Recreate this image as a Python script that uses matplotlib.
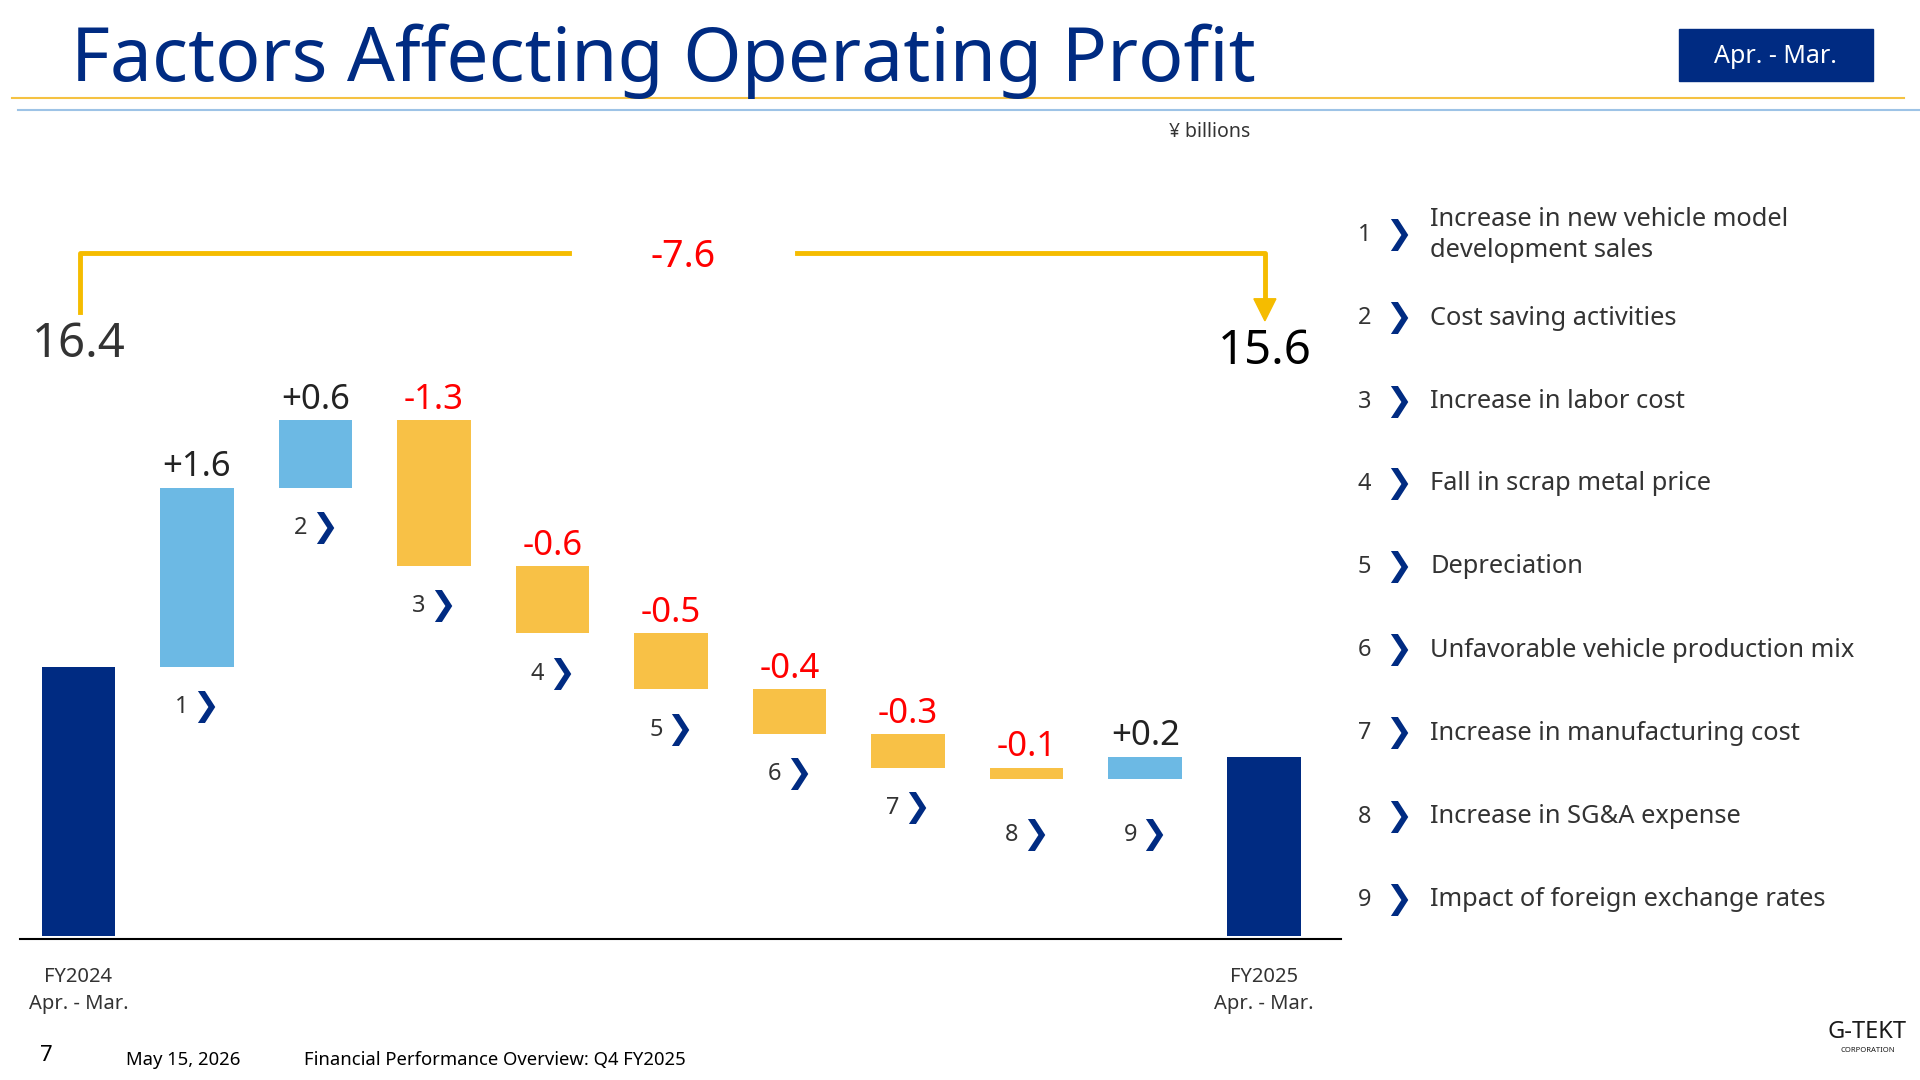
import matplotlib
matplotlib.use("Agg")
import matplotlib.pyplot as plt
from matplotlib.patches import Rectangle
from matplotlib.lines import Line2D

plt.rcParams['font.family'] = ['Noto Sans', 'DejaVu Sans']

start_label = "FY2024\nApr. - Mar."
end_label = "FY2025\nApr. - Mar."
start_value = 16.4
end_value = 15.6
deltas = [1.6, 0.6, -1.3, -0.6, -0.5, -0.4, -0.3, -0.1, 0.2]
factors = ["Increase in new vehicle model\ndevelopment sales", "Cost saving activities",
           "Increase in labor cost", "Fall in scrap metal price", "Depreciation",
           "Unfavorable vehicle production mix", "Increase in manufacturing cost",
           "Increase in SG&A expense", "Impact of foreign exchange rates"]
total_change = -7.6

NAVY = "#002B82"; SKY = "#6CB9E4"; GOLD = "#F8C146"; RED = "#FF0000"; BR = "#F5BC00"
W, H = 1568, 882
fig = plt.figure(figsize=(19.2, 10.8), dpi=100)
def P(x, y): return (x / W, 1 - y / H)

base = 13.97
ax_top, ax_bot = 150, 767
ax = fig.add_axes([16 / W, 1 - ax_bot / H, (1095 - 16) / W, (ax_bot - ax_top) / H])
ax.set_ylim(base, base + (ax_bot - ax_top) / 91.5)
ax.set_xlim(-0.496, 10.65)
for s in ["top", "right", "left"]:
    ax.spines[s].set_visible(False)
ax.spines["bottom"].set_linewidth(1.5)
ax.set_yticks([])
ax.set_xticks([])
bw = 0.62
ax.bar(0, start_value - base - 0.03, bottom=base + 0.03, width=bw, color=NAVY)
ax.bar(10, end_value - base - 0.03, bottom=base + 0.03, width=bw, color=NAVY)
cur = start_value
for i, d in enumerate(deltas, start=1):
    lo, hi = min(cur, cur + d), max(cur, cur + d)
    ax.bar(i, hi - lo, bottom=lo, width=bw, color=SKY if d > 0 else GOLD)
    ax.text(i, hi + 0.03, f"{d:+.1f}", ha="center", va="bottom", fontsize=25,
            color="#222222" if d > 0 else RED)
    off = 0.36 if abs(d) >= 0.3 else 0.5
    ax.text(i - 0.07, lo - off, str(i), ha="right", va="center", fontsize=17, color="#333333")
    ax.text(i - 0.04, lo - off, "❯", ha="left", va="center", fontsize=23, color=NAVY,
            fontweight="bold", family="DejaVu Sans")
    cur += d
ax.text(0, base - 0.25, start_label, ha="center", va="top", fontsize=14.5, color="#333333", linespacing=1.45)
ax.text(10, base - 0.25, end_label, ha="center", va="top", fontsize=14.5, color="#333333", linespacing=1.45)

fig.text(*P(64, 281), f"{start_value:.1f}", ha="center", va="center", fontsize=34, color="#333333")
fig.text(*P(1033, 287), f"{end_value:.1f}", ha="center", va="center", fontsize=34, color="black")

fig.add_artist(Line2D([65/W, 65/W, 465/W], [1-255/H, 1-207/H, 1-207/H], color=BR, lw=3.5))
fig.add_artist(Line2D([651/W, 1033/W, 1033/W], [1-207/H, 1-207/H, 1-245/H], color=BR, lw=3.5))
fig.add_artist(plt.Polygon([P(1024, 244), P(1042, 244), P(1033, 262)], closed=True, color=BR))
fig.text(*P(558, 210), f"{total_change:.1f}", ha="center", va="center", fontsize=27, color=RED)

fig.text(*P(58, 50), "Factors Affecting Operating Profit", ha="left", va="center",
         fontsize=54, color=NAVY)
fig.add_artist(Line2D([10/W, 1555/W], [1-80/H]*2, color="#F5C242", lw=1.5))
fig.add_artist(Line2D([15/W, 1568/W], [1-90/H]*2, color="#9DC3E6", lw=1.5))
fig.add_artist(Rectangle(P(1371, 66), 159/W, 42/H, color=NAVY))
fig.text(*P(1450, 46), "Apr. - Mar.", ha="center", va="center", fontsize=18, color="white")
fig.text(*P(988, 108), "¥ billions", ha="center", va="center", fontsize=14, color="#333333")

ys = [192, 260, 328, 395, 463, 531, 599, 667, 735]
for i, (y, t) in enumerate(zip(ys, factors), start=1):
    fig.text(*P(1120, y), str(i), ha="right", va="center", fontsize=17, color="#333333")
    fig.text(*P(1131, y), "❯", ha="left", va="center", fontsize=23, color=NAVY,
             fontweight="bold", family="DejaVu Sans")
    fig.text(*P(1168, y), t, ha="left", va="center", fontsize=18.3,
             color="#333333", linespacing=1.3)

fig.text(*P(33, 862), "7", ha="left", va="center", fontsize=16, color="black")
fig.text(*P(103, 866), "May 15, 2026", ha="left", va="center", fontsize=13.3, color="black")
fig.text(*P(248, 866), "Financial Performance Overview: Q4 FY2025", ha="left", va="center",
         fontsize=13.3, color="black")
fig.text(*P(1525, 843), "G-TEKT", ha="center", va="center", fontsize=17, color="#1a1a1a", fontweight="bold")
fig.text(*P(1525, 858), "CORPORATION", ha="center", va="center", fontsize=5.5, color="#1a1a1a", fontweight="bold")

fig.savefig("out.png", dpi=100)
